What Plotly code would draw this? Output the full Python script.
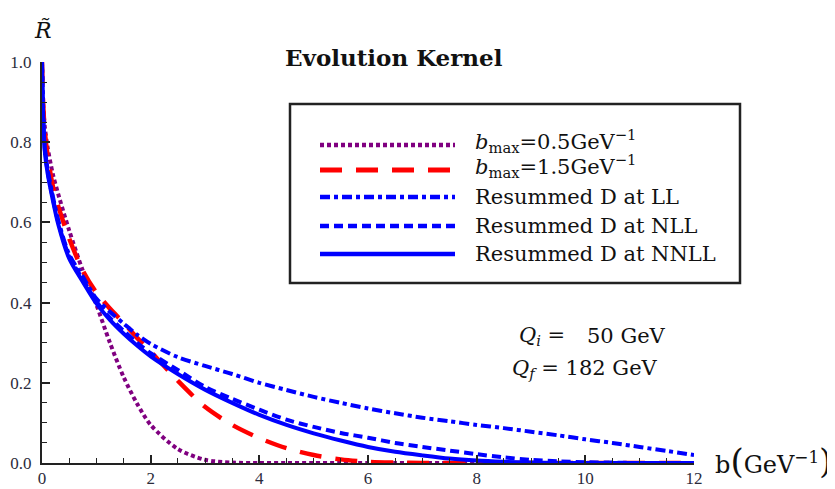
import plotly.graph_objects as go

# ---------------- data ----------------
b = [0, 0.02, 0.05, 0.1, 0.2, 0.3, 0.5, 0.75, 1.0, 1.25, 1.5, 1.75, 2.0, 2.5, 3.0, 3.5,
     4.0, 4.5, 5.0, 5.5, 6.0, 6.5, 7.0, 7.5, 8.0, 8.5, 9.0, 9.5, 10.0, 10.5, 11.0, 11.5, 12.0]

r_bmax_05 = [1.0, 0.9, 0.84, 0.79, 0.72, 0.67, 0.58, 0.48, 0.395, 0.30, 0.215, 0.148, 0.095,
             0.035, 0.008, 0.001, 0, 0, 0, 0, 0, 0, 0, 0, 0, 0, 0, 0, 0, 0, 0, 0, 0]
r_bmax_15 = [1.0, 0.9, 0.83, 0.77, 0.69, 0.64, 0.56, 0.48, 0.425, 0.385, 0.35, 0.312, 0.278,
             0.205, 0.14, 0.095, 0.062, 0.037, 0.02, 0.009, 0.003, 0.001, 0, 0, 0, 0, 0, 0,
             0, 0, 0, 0, 0]
r_ll = [1.0, 0.87, 0.79, 0.735, 0.665, 0.605, 0.52, 0.465, 0.41, 0.377, 0.348, 0.32, 0.297,
        0.264, 0.242, 0.222, 0.2, 0.182, 0.165, 0.15, 0.136, 0.124, 0.113, 0.104, 0.095,
        0.087, 0.078, 0.069, 0.059, 0.05, 0.04, 0.03, 0.02]
r_nll = [1.0, 0.87, 0.785, 0.73, 0.66, 0.60, 0.515, 0.458, 0.403, 0.362, 0.33, 0.30, 0.274,
         0.232, 0.19, 0.16, 0.133, 0.108, 0.09, 0.075, 0.063, 0.05, 0.04, 0.031, 0.022,
         0.014, 0.008, 0.004, 0.002, 0.001, 0, 0, 0]
r_nnll = [1.0, 0.87, 0.78, 0.725, 0.655, 0.595, 0.51, 0.452, 0.398, 0.357, 0.323, 0.293, 0.266,
          0.222, 0.183, 0.15, 0.12, 0.095, 0.074, 0.056, 0.04, 0.028, 0.019, 0.011, 0.006,
          0.003, 0.001, 0, 0, 0, 0, 0, 0]

series_names = ["<i>b</i><sub>max</sub>=0.5GeV<sup>\u22121</sup>",
                "<i>b</i><sub>max</sub>=1.5GeV<sup>\u22121</sup>",
                "Resummed D at LL",
                "Resummed D at NLL",
                "Resummed D at NNLL"]
series_values = [r_bmax_05, r_bmax_15, r_ll, r_nll, r_nnll]

x_ticks = [0, 2, 4, 6, 8, 10, 12]
y_ticks = [0.0, 0.2, 0.4, 0.6, 0.8, 1.0]

# ---------------- styles ----------------
colors = ["rgb(128,0,128)", "rgb(255,0,0)", "rgb(0,0,255)", "rgb(0,0,255)", "rgb(0,0,255)"]
dashes = ["4px,3px", "22px,14px", "10px,4px,4px,4px", "9px,5px", "solid"]
widths = [4, 4.5, 4, 4, 4]

# page has an 8px body margin, so the figure is 8px smaller and margins shifted
OFF = 8
W, H = 835 - OFF, 489 - OFF
L, R, T, B = 42 - OFF, 141, 62 - OFF, 26
PW, PH = W - L - R, H - T - B


def px(x):
    """reference page pixel x -> paper"""
    return (x - OFF - L) / PW


def py(y):
    """reference page pixel y -> paper"""
    return (H - B - (y - OFF)) / PH


SERIF = "DejaVu Serif"
TICKFONT = "Liberation Serif"

fig = go.Figure()
for name, vals, c, d, w in zip(series_names, series_values, colors, dashes, widths):
    fig.add_trace(go.Scatter(x=b, y=vals, mode="lines", name=name, showlegend=False,
                             line=dict(color=c, dash=d, width=w, shape="spline", smoothing=0.8)))

axis_common = dict(
    showgrid=False, zeroline=False, showline=True, linecolor="#222", linewidth=2,
    ticks="inside", ticklen=8, tickwidth=1.5, tickcolor="#222",
    tickfont=dict(family=TICKFONT, size=17, color="#2b2b3b"),
    automargin=False, mirror=False,
)

fig.update_xaxes(range=[0, 12], tickvals=x_ticks, ticktext=[str(v) for v in x_ticks],
                 minor=dict(dtick=0.5, ticklen=5, tickwidth=1.2, tickcolor="#222", ticks="inside"),
                 ticklabelstandoff=-1, **axis_common)
fig.update_yaxes(range=[0, 1], tickvals=y_ticks, ticktext=[f"{v:.1f}" for v in y_ticks],
                 minor=dict(dtick=0.05, ticklen=5, tickwidth=1.2, tickcolor="#222", ticks="inside"),
                 ticklabelstandoff=5, **axis_common)

shapes = []
annotations = []

# legend box
shapes.append(dict(type="rect", xref="paper", yref="paper",
                   x0=px(290), x1=px(740), y0=py(283), y1=py(104),
                   line=dict(color="#222", width=2.5), fillcolor="rgba(0,0,0,0)"))
row_y = [145, 170, 197, 226, 254]
text_y = [141, 166, 197, 226, 254]
for i, (name, c, d, w) in enumerate(zip(series_names, colors, dashes, widths)):
    shapes.append(dict(type="line", xref="paper", yref="paper",
                       x0=px(320), x1=px(455), y0=py(row_y[i]), y1=py(row_y[i]),
                       line=dict(color=c, dash=d, width=w + 0.5)))
    annotations.append(dict(xref="paper", yref="paper", x=px(473), y=py(text_y[i]),
                            xanchor="left", yanchor="middle", showarrow=False, text=name,
                            font=dict(family=SERIF, size=21, color="#111")))

# title
annotations.append(dict(xref="paper", yref="paper", x=px(394), y=py(57), xanchor="center",
                        yanchor="middle", showarrow=False, text="<b>Evolution Kernel</b>",
                        font=dict(family=SERIF, size=23, color="#111")))
# axis titles
annotations.append(dict(xref="paper", yref="paper", x=px(43), y=py(30), xanchor="center",
                        yanchor="middle", showarrow=False, text="<i>R\u0303</i>",
                        font=dict(family=SERIF, size=22, color="#111")))
annotations.append(dict(xref="paper", yref="paper", x=px(713), y=py(461), xanchor="left",
                        yanchor="middle", showarrow=False,
                        text="b<span style='font-size:34px'>(</span>GeV<sup>\u22121</sup>"
                             "<span style='font-size:34px'>)</span>",
                        font=dict(family=SERIF, size=24, color="#111")))
# Q annotations
annotations.append(dict(xref="paper", yref="paper", x=px(567), y=py(336), xanchor="right",
                        yanchor="middle", showarrow=False,
                        text="<i>Q</i><sub><i>i</i></sub> =",
                        font=dict(family=SERIF, size=21, color="#111")))
annotations.append(dict(xref="paper", yref="paper", x=px(668), y=py(336), xanchor="right",
                        yanchor="middle", showarrow=False, text="50 GeV",
                        font=dict(family=SERIF, size=21, color="#111")))
annotations.append(dict(xref="paper", yref="paper", x=px(510), y=py(369), xanchor="left",
                        yanchor="middle", showarrow=False,
                        text="<i>Q</i><sub><i>f</i></sub> = 182 GeV",
                        font=dict(family=SERIF, size=21, color="#111")))

fig.update_layout(
    width=W, height=H, margin=dict(l=L, r=R, t=T, b=B, pad=0),
    paper_bgcolor="white", plot_bgcolor="white",
    showlegend=False, shapes=shapes, annotations=annotations,
)

fig.write_html("out.html")
